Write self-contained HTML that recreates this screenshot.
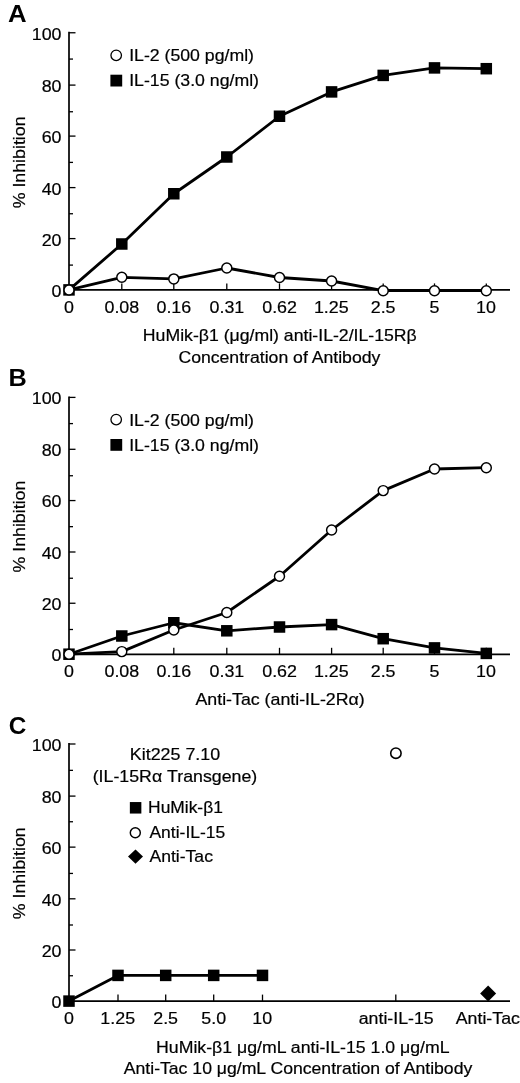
<!DOCTYPE html>
<html><head><meta charset="utf-8"><style>
html,body{margin:0;padding:0;background:#fff;width:520px;height:1083px;overflow:hidden;}
body{position:relative;font-family:"Liberation Sans", sans-serif;}
</style></head><body>
<svg width="520" height="1083" viewBox="0 0 520 1083" style="position:absolute;left:0;top:0;filter:grayscale(1)">
<g font-family='"Liberation Sans", sans-serif' fill="#000">
<text transform="translate(8.06,21.90) scale(1.0743,1)" font-size="24" font-weight="bold">A</text>
<line x1="69.00" y1="31.86" x2="69.00" y2="289.90" stroke="#000" stroke-width="1.7"/>
<line x1="69.00" y1="265.10" x2="73.00" y2="265.10" stroke="#000" stroke-width="1.3"/>
<line x1="69.00" y1="238.60" x2="75.50" y2="238.60" stroke="#000" stroke-width="1.3"/>
<line x1="69.00" y1="213.75" x2="73.00" y2="213.75" stroke="#000" stroke-width="1.3"/>
<line x1="69.00" y1="187.60" x2="75.50" y2="187.60" stroke="#000" stroke-width="1.3"/>
<line x1="69.00" y1="162.40" x2="73.00" y2="162.40" stroke="#000" stroke-width="1.3"/>
<line x1="69.00" y1="136.10" x2="75.50" y2="136.10" stroke="#000" stroke-width="1.3"/>
<line x1="69.00" y1="111.75" x2="73.00" y2="111.75" stroke="#000" stroke-width="1.3"/>
<line x1="69.00" y1="85.10" x2="75.50" y2="85.10" stroke="#000" stroke-width="1.3"/>
<line x1="69.00" y1="59.07" x2="73.00" y2="59.07" stroke="#000" stroke-width="1.3"/>
<line x1="69.00" y1="32.76" x2="75.50" y2="32.76" stroke="#000" stroke-width="1.3"/>
<text transform="translate(51.57,296.80) scale(1.0500,1)" font-size="17" font-weight="normal" stroke="#000" stroke-width="0.2">0</text>
<text transform="translate(41.65,245.50) scale(1.0500,1)" font-size="17" font-weight="normal" stroke="#000" stroke-width="0.2">20</text>
<text transform="translate(41.65,194.50) scale(1.0500,1)" font-size="17" font-weight="normal" stroke="#000" stroke-width="0.2">40</text>
<text transform="translate(41.65,143.00) scale(1.0500,1)" font-size="17" font-weight="normal" stroke="#000" stroke-width="0.2">60</text>
<text transform="translate(41.65,92.00) scale(1.0500,1)" font-size="17" font-weight="normal" stroke="#000" stroke-width="0.2">80</text>
<text transform="translate(31.72,39.66) scale(1.0500,1)" font-size="17" font-weight="normal" stroke="#000" stroke-width="0.2">100</text>
<text transform="translate(24.80,208.34) rotate(-90) scale(1.1122,1)" font-size="16" stroke="#000" stroke-width="0.2">% Inhibition</text>
<line x1="69.00" y1="289.90" x2="510.00" y2="289.90" stroke="#000" stroke-width="1.7"/>
<line x1="121.80" y1="289.90" x2="121.80" y2="283.40" stroke="#000" stroke-width="1.3"/>
<line x1="173.80" y1="289.90" x2="173.80" y2="283.40" stroke="#000" stroke-width="1.3"/>
<line x1="226.80" y1="289.90" x2="226.80" y2="283.40" stroke="#000" stroke-width="1.3"/>
<line x1="279.50" y1="289.90" x2="279.50" y2="283.40" stroke="#000" stroke-width="1.3"/>
<line x1="331.60" y1="289.90" x2="331.60" y2="283.40" stroke="#000" stroke-width="1.3"/>
<line x1="383.20" y1="289.90" x2="383.20" y2="283.40" stroke="#000" stroke-width="1.3"/>
<line x1="434.50" y1="289.90" x2="434.50" y2="283.40" stroke="#000" stroke-width="1.3"/>
<line x1="486.30" y1="289.90" x2="486.30" y2="283.40" stroke="#000" stroke-width="1.3"/>
<text transform="translate(64.04,312.90) scale(1.0500,1)" font-size="17" font-weight="normal" stroke="#000" stroke-width="0.2">0</text>
<text transform="translate(104.47,312.90) scale(1.0500,1)" font-size="17" font-weight="normal" stroke="#000" stroke-width="0.2">0.08</text>
<text transform="translate(156.48,312.90) scale(1.0500,1)" font-size="17" font-weight="normal" stroke="#000" stroke-width="0.2">0.16</text>
<text transform="translate(209.52,312.90) scale(1.0500,1)" font-size="17" font-weight="normal" stroke="#000" stroke-width="0.2">0.31</text>
<text transform="translate(262.23,312.90) scale(1.0500,1)" font-size="17" font-weight="normal" stroke="#000" stroke-width="0.2">0.62</text>
<text transform="translate(313.93,312.90) scale(1.0500,1)" font-size="17" font-weight="normal" stroke="#000" stroke-width="0.2">1.25</text>
<text transform="translate(370.72,312.90) scale(1.0500,1)" font-size="17" font-weight="normal" stroke="#000" stroke-width="0.2">2.5</text>
<text transform="translate(429.56,312.90) scale(1.0500,1)" font-size="17" font-weight="normal" stroke="#000" stroke-width="0.2">5</text>
<text transform="translate(476.05,312.90) scale(1.0500,1)" font-size="17" font-weight="normal" stroke="#000" stroke-width="0.2">10</text>
<polyline points="69.00,289.90 121.80,244.00 173.80,193.75 226.80,157.00 279.50,116.25 331.60,91.90 383.20,75.40 434.50,67.90 486.30,68.70" fill="none" stroke="#000" stroke-width="2.8" stroke-linejoin="round"/>
<polyline points="69.00,289.90 121.80,277.30 173.80,278.90 226.80,268.00 279.50,277.50 331.60,281.00 383.20,290.70 434.50,290.70 486.30,290.70" fill="none" stroke="#000" stroke-width="2.8" stroke-linejoin="round"/>
<rect x="63.25" y="284.15" width="11.5" height="11.5" fill="#000"/>
<rect x="116.05" y="238.25" width="11.5" height="11.5" fill="#000"/>
<rect x="168.05" y="188.00" width="11.5" height="11.5" fill="#000"/>
<rect x="221.05" y="151.25" width="11.5" height="11.5" fill="#000"/>
<rect x="273.75" y="110.50" width="11.5" height="11.5" fill="#000"/>
<rect x="325.85" y="86.15" width="11.5" height="11.5" fill="#000"/>
<rect x="377.45" y="69.65" width="11.5" height="11.5" fill="#000"/>
<rect x="428.75" y="62.15" width="11.5" height="11.5" fill="#000"/>
<rect x="480.55" y="62.95" width="11.5" height="11.5" fill="#000"/>
<circle cx="69.00" cy="289.90" r="5.0" fill="#fff" stroke="#000" stroke-width="1.45"/>
<circle cx="121.80" cy="277.30" r="5.0" fill="#fff" stroke="#000" stroke-width="1.45"/>
<circle cx="173.80" cy="278.90" r="5.0" fill="#fff" stroke="#000" stroke-width="1.45"/>
<circle cx="226.80" cy="268.00" r="5.0" fill="#fff" stroke="#000" stroke-width="1.45"/>
<circle cx="279.50" cy="277.50" r="5.0" fill="#fff" stroke="#000" stroke-width="1.45"/>
<circle cx="331.60" cy="281.00" r="5.0" fill="#fff" stroke="#000" stroke-width="1.45"/>
<circle cx="383.20" cy="290.70" r="5.0" fill="#fff" stroke="#000" stroke-width="1.45"/>
<circle cx="434.50" cy="290.70" r="5.0" fill="#fff" stroke="#000" stroke-width="1.45"/>
<circle cx="486.30" cy="290.70" r="5.0" fill="#fff" stroke="#000" stroke-width="1.45"/>
<circle cx="116.20" cy="55.30" r="5.25" fill="#fff" stroke="#000" stroke-width="1.3"/>
<text transform="translate(129.17,61.30) scale(1.1061,1)" font-size="16" font-weight="normal" stroke="#000" stroke-width="0.2">IL-2 (500 pg/ml)</text>
<rect x="110.40" y="74.70" width="11.8" height="11.8" fill="#000"/>
<text transform="translate(129.17,86.30) scale(1.1069,1)" font-size="16" font-weight="normal" stroke="#000" stroke-width="0.2">IL-15 (3.0 ng/ml)</text>
<text transform="translate(142.85,341.30) scale(1.1048,1)" font-size="16" font-weight="normal" stroke="#000" stroke-width="0.2">HuMik-β1 (μg/ml) anti-IL-2/IL-15Rβ</text>
<text transform="translate(178.40,363.00) scale(1.1032,1)" font-size="16" font-weight="normal" stroke="#000" stroke-width="0.2">Concentration of Antibody</text>
<text transform="translate(8.51,386.00) scale(1.0519,1)" font-size="24" font-weight="bold">B</text>
<line x1="69.00" y1="396.50" x2="69.00" y2="654.30" stroke="#000" stroke-width="1.7"/>
<line x1="69.00" y1="629.50" x2="73.00" y2="629.50" stroke="#000" stroke-width="1.3"/>
<line x1="69.00" y1="603.25" x2="75.50" y2="603.25" stroke="#000" stroke-width="1.3"/>
<line x1="69.00" y1="578.25" x2="73.00" y2="578.25" stroke="#000" stroke-width="1.3"/>
<line x1="69.00" y1="552.00" x2="75.50" y2="552.00" stroke="#000" stroke-width="1.3"/>
<line x1="69.00" y1="526.67" x2="73.00" y2="526.67" stroke="#000" stroke-width="1.3"/>
<line x1="69.00" y1="500.56" x2="75.50" y2="500.56" stroke="#000" stroke-width="1.3"/>
<line x1="69.00" y1="475.75" x2="73.00" y2="475.75" stroke="#000" stroke-width="1.3"/>
<line x1="69.00" y1="449.30" x2="75.50" y2="449.30" stroke="#000" stroke-width="1.3"/>
<line x1="69.00" y1="423.60" x2="73.00" y2="423.60" stroke="#000" stroke-width="1.3"/>
<line x1="69.00" y1="397.40" x2="75.50" y2="397.40" stroke="#000" stroke-width="1.3"/>
<text transform="translate(51.57,661.20) scale(1.0500,1)" font-size="17" font-weight="normal" stroke="#000" stroke-width="0.2">0</text>
<text transform="translate(41.65,610.15) scale(1.0500,1)" font-size="17" font-weight="normal" stroke="#000" stroke-width="0.2">20</text>
<text transform="translate(41.65,558.90) scale(1.0500,1)" font-size="17" font-weight="normal" stroke="#000" stroke-width="0.2">40</text>
<text transform="translate(41.65,507.46) scale(1.0500,1)" font-size="17" font-weight="normal" stroke="#000" stroke-width="0.2">60</text>
<text transform="translate(41.65,456.20) scale(1.0500,1)" font-size="17" font-weight="normal" stroke="#000" stroke-width="0.2">80</text>
<text transform="translate(31.72,404.30) scale(1.0500,1)" font-size="17" font-weight="normal" stroke="#000" stroke-width="0.2">100</text>
<text transform="translate(24.80,572.54) rotate(-90) scale(1.1122,1)" font-size="16" stroke="#000" stroke-width="0.2">% Inhibition</text>
<line x1="69.00" y1="654.30" x2="510.00" y2="654.30" stroke="#000" stroke-width="1.7"/>
<line x1="121.80" y1="654.30" x2="121.80" y2="647.80" stroke="#000" stroke-width="1.3"/>
<line x1="173.80" y1="654.30" x2="173.80" y2="647.80" stroke="#000" stroke-width="1.3"/>
<line x1="226.80" y1="654.30" x2="226.80" y2="647.80" stroke="#000" stroke-width="1.3"/>
<line x1="279.50" y1="654.30" x2="279.50" y2="647.80" stroke="#000" stroke-width="1.3"/>
<line x1="331.60" y1="654.30" x2="331.60" y2="647.80" stroke="#000" stroke-width="1.3"/>
<line x1="383.20" y1="654.30" x2="383.20" y2="647.80" stroke="#000" stroke-width="1.3"/>
<line x1="434.50" y1="654.30" x2="434.50" y2="647.80" stroke="#000" stroke-width="1.3"/>
<line x1="486.30" y1="654.30" x2="486.30" y2="647.80" stroke="#000" stroke-width="1.3"/>
<text transform="translate(64.04,677.40) scale(1.0500,1)" font-size="17" font-weight="normal" stroke="#000" stroke-width="0.2">0</text>
<text transform="translate(104.47,677.40) scale(1.0500,1)" font-size="17" font-weight="normal" stroke="#000" stroke-width="0.2">0.08</text>
<text transform="translate(156.48,677.40) scale(1.0500,1)" font-size="17" font-weight="normal" stroke="#000" stroke-width="0.2">0.16</text>
<text transform="translate(209.52,677.40) scale(1.0500,1)" font-size="17" font-weight="normal" stroke="#000" stroke-width="0.2">0.31</text>
<text transform="translate(262.23,677.40) scale(1.0500,1)" font-size="17" font-weight="normal" stroke="#000" stroke-width="0.2">0.62</text>
<text transform="translate(313.93,677.40) scale(1.0500,1)" font-size="17" font-weight="normal" stroke="#000" stroke-width="0.2">1.25</text>
<text transform="translate(370.72,677.40) scale(1.0500,1)" font-size="17" font-weight="normal" stroke="#000" stroke-width="0.2">2.5</text>
<text transform="translate(429.56,677.40) scale(1.0500,1)" font-size="17" font-weight="normal" stroke="#000" stroke-width="0.2">5</text>
<text transform="translate(476.05,677.40) scale(1.0500,1)" font-size="17" font-weight="normal" stroke="#000" stroke-width="0.2">10</text>
<polyline points="69.00,654.20 121.80,651.60 173.80,630.00 226.80,612.50 279.50,576.25 331.60,530.00 383.20,490.60 434.50,469.00 486.30,467.70" fill="none" stroke="#000" stroke-width="2.8" stroke-linejoin="round"/>
<polyline points="69.00,654.20 121.80,636.00 173.80,622.75 226.80,630.80 279.50,627.00 331.60,624.60 383.20,638.70 434.50,647.90 486.30,653.40" fill="none" stroke="#000" stroke-width="2.8" stroke-linejoin="round"/>
<rect x="63.25" y="648.45" width="11.5" height="11.5" fill="#000"/>
<rect x="116.05" y="630.25" width="11.5" height="11.5" fill="#000"/>
<rect x="168.05" y="617.00" width="11.5" height="11.5" fill="#000"/>
<rect x="221.05" y="625.05" width="11.5" height="11.5" fill="#000"/>
<rect x="273.75" y="621.25" width="11.5" height="11.5" fill="#000"/>
<rect x="325.85" y="618.85" width="11.5" height="11.5" fill="#000"/>
<rect x="377.45" y="632.95" width="11.5" height="11.5" fill="#000"/>
<rect x="428.75" y="642.15" width="11.5" height="11.5" fill="#000"/>
<rect x="480.55" y="647.65" width="11.5" height="11.5" fill="#000"/>
<circle cx="69.00" cy="654.20" r="5.0" fill="#fff" stroke="#000" stroke-width="1.45"/>
<circle cx="121.80" cy="651.60" r="5.0" fill="#fff" stroke="#000" stroke-width="1.45"/>
<circle cx="173.80" cy="630.00" r="5.0" fill="#fff" stroke="#000" stroke-width="1.45"/>
<circle cx="226.80" cy="612.50" r="5.0" fill="#fff" stroke="#000" stroke-width="1.45"/>
<circle cx="279.50" cy="576.25" r="5.0" fill="#fff" stroke="#000" stroke-width="1.45"/>
<circle cx="331.60" cy="530.00" r="5.0" fill="#fff" stroke="#000" stroke-width="1.45"/>
<circle cx="383.20" cy="490.60" r="5.0" fill="#fff" stroke="#000" stroke-width="1.45"/>
<circle cx="434.50" cy="469.00" r="5.0" fill="#fff" stroke="#000" stroke-width="1.45"/>
<circle cx="486.30" cy="467.70" r="5.0" fill="#fff" stroke="#000" stroke-width="1.45"/>
<circle cx="116.20" cy="419.60" r="5.25" fill="#fff" stroke="#000" stroke-width="1.3"/>
<text transform="translate(129.17,425.60) scale(1.1061,1)" font-size="16" font-weight="normal" stroke="#000" stroke-width="0.2">IL-2 (500 pg/ml)</text>
<rect x="110.40" y="439.00" width="11.8" height="11.8" fill="#000"/>
<text transform="translate(129.17,450.60) scale(1.1069,1)" font-size="16" font-weight="normal" stroke="#000" stroke-width="0.2">IL-15 (3.0 ng/ml)</text>
<text transform="translate(195.46,704.50) scale(1.1118,1)" font-size="16" font-weight="normal" stroke="#000" stroke-width="0.2">Anti-Tac (anti-IL-2Rα)</text>
<text transform="translate(8.70,733.50) scale(1.0130,1)" font-size="24" font-weight="bold">C</text>
<line x1="69.00" y1="743.10" x2="69.00" y2="1001.10" stroke="#000" stroke-width="1.7"/>
<line x1="69.00" y1="975.75" x2="73.00" y2="975.75" stroke="#000" stroke-width="1.3"/>
<line x1="69.00" y1="950.00" x2="75.50" y2="950.00" stroke="#000" stroke-width="1.3"/>
<line x1="69.00" y1="925.00" x2="73.00" y2="925.00" stroke="#000" stroke-width="1.3"/>
<line x1="69.00" y1="898.80" x2="75.50" y2="898.80" stroke="#000" stroke-width="1.3"/>
<line x1="69.00" y1="873.44" x2="73.00" y2="873.44" stroke="#000" stroke-width="1.3"/>
<line x1="69.00" y1="847.13" x2="75.50" y2="847.13" stroke="#000" stroke-width="1.3"/>
<line x1="69.00" y1="821.75" x2="73.00" y2="821.75" stroke="#000" stroke-width="1.3"/>
<line x1="69.00" y1="796.10" x2="75.50" y2="796.10" stroke="#000" stroke-width="1.3"/>
<line x1="69.00" y1="770.36" x2="73.00" y2="770.36" stroke="#000" stroke-width="1.3"/>
<line x1="69.00" y1="744.00" x2="75.50" y2="744.00" stroke="#000" stroke-width="1.3"/>
<text transform="translate(51.57,1008.00) scale(1.0500,1)" font-size="17" font-weight="normal" stroke="#000" stroke-width="0.2">0</text>
<text transform="translate(41.65,956.90) scale(1.0500,1)" font-size="17" font-weight="normal" stroke="#000" stroke-width="0.2">20</text>
<text transform="translate(41.65,905.70) scale(1.0500,1)" font-size="17" font-weight="normal" stroke="#000" stroke-width="0.2">40</text>
<text transform="translate(41.65,854.03) scale(1.0500,1)" font-size="17" font-weight="normal" stroke="#000" stroke-width="0.2">60</text>
<text transform="translate(41.65,803.00) scale(1.0500,1)" font-size="17" font-weight="normal" stroke="#000" stroke-width="0.2">80</text>
<text transform="translate(31.72,750.90) scale(1.0500,1)" font-size="17" font-weight="normal" stroke="#000" stroke-width="0.2">100</text>
<text transform="translate(24.80,919.24) rotate(-90) scale(1.1122,1)" font-size="16" stroke="#000" stroke-width="0.2">% Inhibition</text>
<line x1="69.00" y1="1001.10" x2="510.00" y2="1001.10" stroke="#000" stroke-width="1.7"/>
<line x1="118.00" y1="1001.10" x2="118.00" y2="994.60" stroke="#000" stroke-width="1.3"/>
<line x1="165.70" y1="1001.10" x2="165.70" y2="994.60" stroke="#000" stroke-width="1.3"/>
<line x1="213.70" y1="1001.10" x2="213.70" y2="994.60" stroke="#000" stroke-width="1.3"/>
<line x1="262.50" y1="1001.10" x2="262.50" y2="994.60" stroke="#000" stroke-width="1.3"/>
<line x1="395.80" y1="1001.10" x2="395.80" y2="994.60" stroke="#000" stroke-width="1.3"/>
<text transform="translate(64.04,1024.00) scale(1.0500,1)" font-size="17" font-weight="normal" stroke="#000" stroke-width="0.2">0</text>
<text transform="translate(100.33,1024.00) scale(1.0500,1)" font-size="17" font-weight="normal" stroke="#000" stroke-width="0.2">1.25</text>
<text transform="translate(153.22,1024.00) scale(1.0500,1)" font-size="17" font-weight="normal" stroke="#000" stroke-width="0.2">2.5</text>
<text transform="translate(201.29,1024.00) scale(1.0500,1)" font-size="17" font-weight="normal" stroke="#000" stroke-width="0.2">5.0</text>
<text transform="translate(252.25,1024.00) scale(1.0500,1)" font-size="17" font-weight="normal" stroke="#000" stroke-width="0.2">10</text>
<text transform="translate(358.75,1024.00) scale(1.1096,1)" font-size="16" font-weight="normal" stroke="#000" stroke-width="0.2">anti-IL-15</text>
<text transform="translate(455.76,1024.00) scale(1.1108,1)" font-size="16" font-weight="normal" stroke="#000" stroke-width="0.2">Anti-Tac</text>
<polyline points="69.00,1001.10 118.00,975.40 165.70,975.40 213.70,975.40 262.50,975.40" fill="none" stroke="#000" stroke-width="2.8" stroke-linejoin="round"/>
<rect x="63.25" y="995.35" width="11.5" height="11.5" fill="#000"/>
<rect x="112.25" y="969.65" width="11.5" height="11.5" fill="#000"/>
<rect x="159.95" y="969.65" width="11.5" height="11.5" fill="#000"/>
<rect x="207.95" y="969.65" width="11.5" height="11.5" fill="#000"/>
<rect x="256.75" y="969.65" width="11.5" height="11.5" fill="#000"/>
<circle cx="395.90" cy="753.20" r="5.2" fill="#fff" stroke="#000" stroke-width="1.6"/>
<polygon points="488.10,985.40 496.10,993.40 488.10,1001.40 480.10,993.40" fill="#000"/>
<text transform="translate(129.84,760.30) scale(1.1163,1)" font-size="16" font-weight="normal" stroke="#000" stroke-width="0.2">Kit225 7.10</text>
<text transform="translate(92.70,781.50) scale(1.1108,1)" font-size="16" font-weight="normal" stroke="#000" stroke-width="0.2">(IL-15Rα Transgene)</text>
<rect x="129.85" y="802.05" width="11.5" height="11.5" fill="#000"/>
<text transform="translate(148.07,813.00) scale(1.0874,1)" font-size="16" font-weight="normal" stroke="#000" stroke-width="0.2">HuMik-β1</text>
<circle cx="135.30" cy="832.80" r="5.0" fill="#fff" stroke="#000" stroke-width="1.45"/>
<text transform="translate(149.47,838.00) scale(1.0924,1)" font-size="16" font-weight="normal" stroke="#000" stroke-width="0.2">Anti-IL-15</text>
<polygon points="135.50,849.40 143.00,856.60 135.50,863.80 128.00,856.60" fill="#000"/>
<text transform="translate(149.46,862.00) scale(1.0986,1)" font-size="16" font-weight="normal" stroke="#000" stroke-width="0.2">Anti-Tac</text>
<text transform="translate(156.05,1052.50) scale(1.1081,1)" font-size="16" font-weight="normal" stroke="#000" stroke-width="0.2">HuMik-β1 μg/mL anti-IL-15 1.0 μg/mL</text>
<text transform="translate(123.76,1073.50) scale(1.1024,1)" font-size="16" font-weight="normal" stroke="#000" stroke-width="0.2">Anti-Tac 10 μg/mL Concentration of Antibody</text>
</g></svg>
</body></html>
